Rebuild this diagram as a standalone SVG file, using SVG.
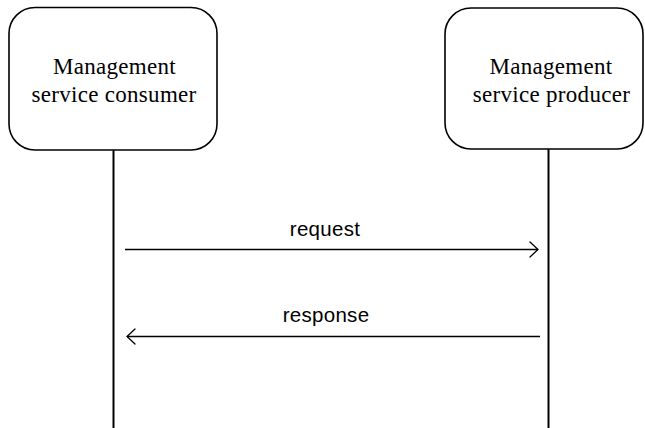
<svg xmlns="http://www.w3.org/2000/svg" width="645" height="428" viewBox="0 0 645 428">
<style>
.box{fill:#fff;stroke:#000;stroke-width:1.6}
.life{stroke:#000;stroke-width:2;fill:none}
.msg{stroke:#000;stroke-width:1.3;fill:none}
.head{stroke:#000;stroke-width:1.3;fill:none;stroke-linecap:round;stroke-linejoin:miter}
.nt{font-family:"Liberation Serif","Times New Roman",serif;font-size:23px;letter-spacing:0.3px;text-anchor:middle;fill:#000}
.lt{font-family:"Liberation Sans",Arial,sans-serif;font-size:20.5px;letter-spacing:0.3px;text-anchor:middle;fill:#000}
</style>
<rect width="645" height="428" fill="#fff"/>
<g id="connectors">
<line class="life" x1="113.5" y1="150" x2="113.5" y2="428"/>
<line class="life" x1="548.5" y1="149" x2="548.5" y2="428"/>
<line class="msg" x1="125" y1="249.5" x2="538" y2="249.5"/>
<polyline class="head" points="530,242 538,249.5 530,257"/>
<text class="lt" x="325" y="236">request</text>
<line class="msg" x1="127" y1="336.5" x2="540" y2="336.5"/>
<polyline class="head" points="135,329 127,336.5 135,344"/>
<text class="lt" x="326" y="322">response</text>
</g>
<g id="consumer">
<rect class="box" x="9" y="7.5" width="208" height="142.5" rx="26" ry="26"/>
<text class="nt" x="114.5" y="73.5">Management</text>
<text class="nt" x="114" y="102">service consumer</text>
</g>
<g id="producer">
<rect class="box" x="445" y="8" width="198" height="141" rx="26" ry="26"/>
<text class="nt" x="551" y="73.5">Management</text>
<text class="nt" x="551.5" y="101.5">service producer</text>
</g>
</svg>
